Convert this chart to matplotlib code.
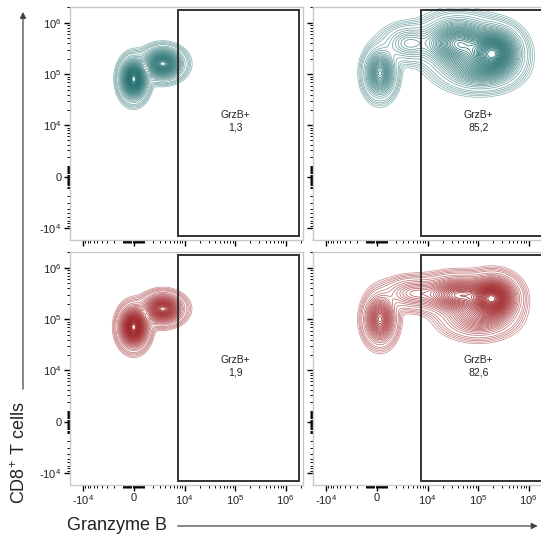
import numpy as np
import matplotlib.pyplot as plt
from matplotlib.patches import Rectangle, FancyArrowPatch
from matplotlib.ticker import FixedLocator, FixedFormatter
from matplotlib.colors import to_rgb

plt.rcParams["font.family"] = ["Liberation Sans", "DejaVu Sans"]
plt.rcParams["mathtext.fontset"] = "custom"
plt.rcParams["mathtext.rm"] = "Liberation Sans"
plt.rcParams["mathtext.it"] = "Liberation Sans:italic"

W = 2000  # linear width of the biexponential-ish axes

tick_vals = [-1e4, 0, 1e4, 1e5, 1e6]
tick_labels = ["-$10^4$", "0", "$10^4$", "$10^5$", "$10^6$"]

# gate rectangle (data units)
gate_x = (7.5e3, 1.8e6)
gate_y = (-1.4e4, 1.8e6)
gate_name = "GrzB+"
gate_pct = ["1,3", "85,2", "1,9", "82,6"]

teal = "#236f6f"
red = "#9e2226"

# populations: centre x, centre y (data units), spread x, spread y (axis units), weight
tl_x = [0, 3.5e3]
tl_y = [8e4, 1.6e5]
tl_sx = [0.30, 0.45]
tl_sy = [0.45, 0.35]
tl_w = [1.0, 0.8]

tr_x = [300, 4e3, 4e4, 2.1e5, 1e5]
tr_y = [1.05e5, 4e5, 4e5, 2.7e5, 1.3e5]
tr_sx = [0.36, 0.6, 0.8, 0.6, 0.85]
tr_sy = [0.55, 0.42, 0.58, 0.55, 0.48]
tr_w = [0.5, 0.2, 0.6, 0.8, 0.35]

bl_x = [0, 3.5e3]
bl_y = [7e4, 1.6e5]
bl_sx = [0.32, 0.45]
bl_sy = [0.45, 0.33]
bl_w = [1.0, 0.75]

br_x = [300, 5e3, 4e4, 2.0e5, 1e5]
br_y = [1.0e5, 3.2e5, 3e5, 2.6e5, 1.1e5]
br_sx = [0.36, 0.7, 0.8, 0.55, 0.8]
br_sy = [0.55, 0.36, 0.42, 0.48, 0.45]
br_w = [0.5, 0.2, 0.5, 0.8, 0.3]

panels = [
    (tl_x, tl_y, tl_sx, tl_sy, tl_w, teal),
    (tr_x, tr_y, tr_sx, tr_sy, tr_w, teal),
    (bl_x, bl_y, bl_sx, bl_sy, bl_w, red),
    (br_x, br_y, br_sx, br_sy, br_w, red),
]

fig = plt.figure(figsize=(5.41, 5.37), dpi=100)
ax_w, ax_h = 0.4307, 0.433
positions = [
    (0.1294, 0.5531),
    (0.5786, 0.5531),
    (0.1294, 0.0968),
    (0.5786, 0.0968),
]

minor = []
for k in [2, 3]:
    for m in range(1, 10):
        minor += [m * 10**k, -m * 10**k]
for k in [4, 5]:
    for m in range(2, 10):
        minor.append(m * 10**k)
minor.append(2e6)

u = np.linspace(-3.2, 8.2, 460)
U, V = np.meshgrid(u, u)
X, Y = W * np.sinh(U), W * np.sinh(V)

levels = np.concatenate([[0.01, 0.015, 0.021, 0.029],
                         np.linspace(0.04, 0.97, 40)])

for i, (cx, cy, sx, sy, wt, col) in enumerate(panels):
    ax = fig.add_axes([positions[i][0], positions[i][1], ax_w, ax_h])
    ax.set_xscale("asinh", linear_width=W)
    ax.set_yscale("asinh", linear_width=W)

    Z = np.zeros_like(U)
    for x0, y0, a, b, w in zip(cx, cy, sx, sy, wt):
        ux, uy = np.arcsinh(x0 / W), np.arcsinh(y0 / W)
        Z += w * np.exp(-0.5 * (((U - ux) / a) ** 2 + ((V - uy) / b) ** 2))
    Z /= Z.max()

    rgb = np.array(to_rgb(col))
    cols = [tuple(rgb + (1 - rgb) * (0.5 * (1 - j / (len(levels) - 1)) ** 2))
            for j in range(len(levels))]
    ax.contour(X, Y, Z, levels=levels, colors=cols, linewidths=0.55)

    ax.add_patch(Rectangle((gate_x[0], gate_y[0]), gate_x[1] - gate_x[0],
                           gate_y[1] - gate_y[0], fill=False,
                           edgecolor="#333333", linewidth=1.4, zorder=5))
    ax.text(0.71, 0.51, gate_name + "\n" + gate_pct[i], transform=ax.transAxes,
            ha="center", va="center", fontsize=7.5, color="#222222",
            linespacing=1.25)

    ax.set_xlim(-1.8e4, 2.2e6)
    ax.set_ylim(-1.7e4, 2.0e6)
    for axis in (ax.xaxis, ax.yaxis):
        axis.set_major_locator(FixedLocator(tick_vals))
        axis.set_minor_locator(FixedLocator(minor))
        axis.set_major_formatter(FixedFormatter(tick_labels))
    ax.tick_params(which="major", length=4, width=1.0, color="black",
                   labelsize=8, labelcolor="#222222", pad=2)
    ax.tick_params(which="minor", length=2, width=0.7, color="black")
    if i in (1, 3):
        ax.tick_params(axis="y", labelleft=False)
    if i in (0, 1):
        ax.tick_params(axis="x", labelbottom=False)
    for s in ax.spines.values():
        s.set_color("#c8c8c8")
        s.set_linewidth(1.0)

fig.add_artist(FancyArrowPatch((0.0425, 0.270), (0.0425, 0.983),
                               transform=fig.transFigure, arrowstyle="-|>",
                               mutation_scale=9, color="#444444", lw=0.9))
fig.add_artist(FancyArrowPatch((0.3235, 0.0205), (0.999, 0.0205),
                               transform=fig.transFigure, arrowstyle="-|>",
                               mutation_scale=9, color="#444444", lw=0.9))
fig.text(20 / 541, 0.1564, "CD8$^{+}$ T cells", rotation=90, ha="center",
         va="center", fontsize=13, color="#222222")
fig.text(67 / 541, 0.0223, "Granzyme B", ha="left", va="center",
         fontsize=13, color="#222222")

fig.savefig("out.png", dpi=100)
